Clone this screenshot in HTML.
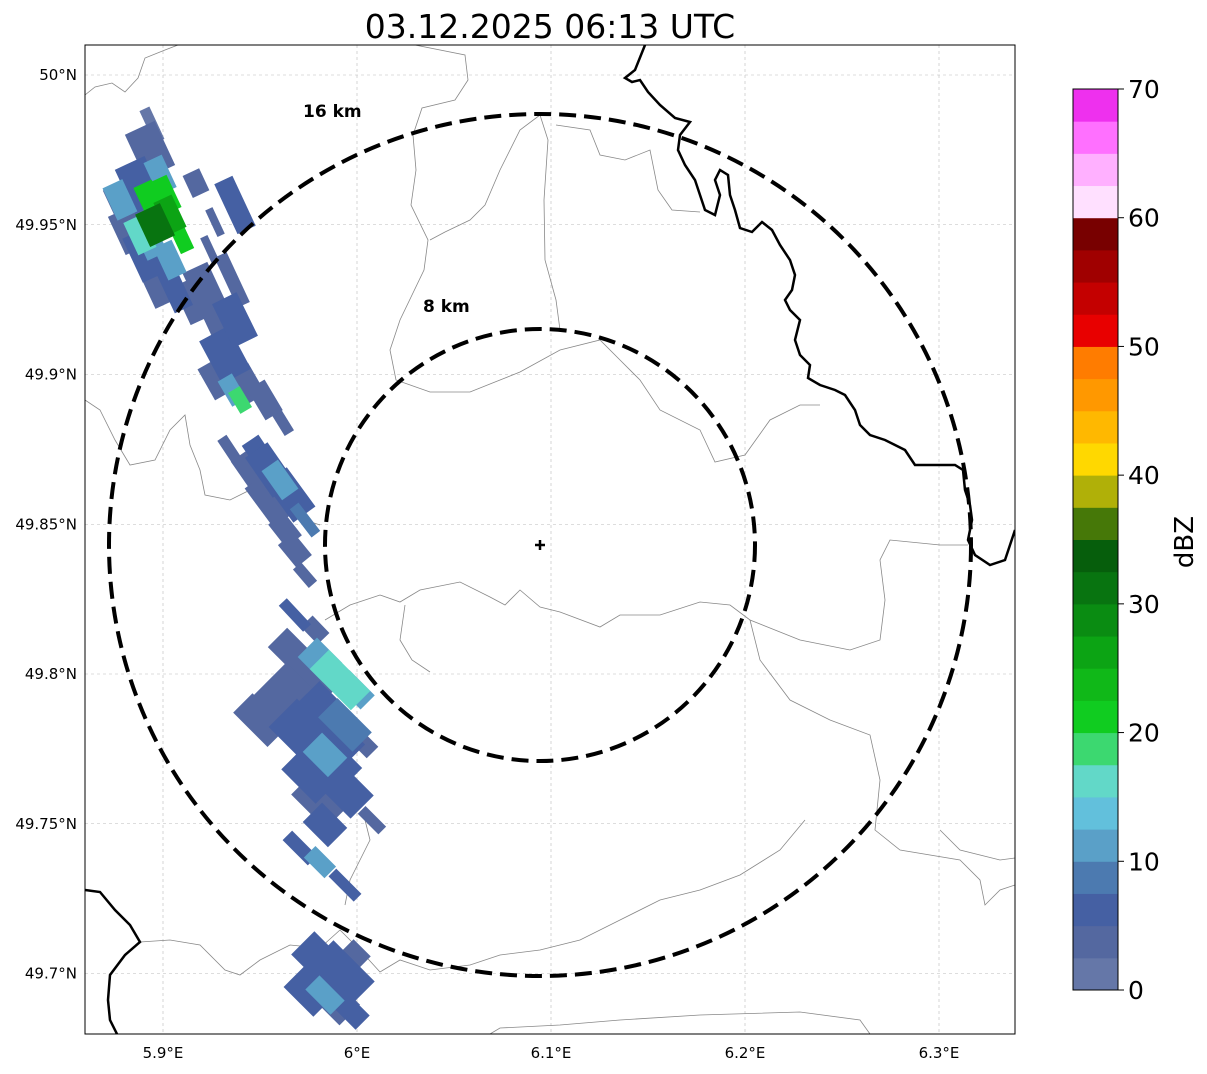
<!DOCTYPE html>
<html><head><meta charset="utf-8"><style>
body{margin:0;background:#fff;width:1207px;height:1069px;overflow:hidden;font-family:"Liberation Sans",sans-serif}
svg text{font-family:"DejaVu Sans","Liberation Sans",sans-serif}
</style></head><body>
<svg id="chart" width="1207" height="1069" viewBox="0 0 1207 1069" xmlns="http://www.w3.org/2000/svg">
<text x="550" y="38" font-size="33" text-anchor="middle">03.12.2025 06:13 UTC</text>
<defs><clipPath id="pc"><rect x="85" y="45" width="930" height="989"/></clipPath></defs>
<g id="grid"></g>
<g clip-path="url(#pc)">
<g fill="none" stroke="#888" stroke-width="0.8">
<path d="M85,95 L95,87 L112,83 L125,92 L138,78 L145,58 L165,50 L178,45"/>
<path d="M415,45 L465,55 L468,80 L455,100 L422,108 L413,135 L416,170 L411,205 L428,240 L424,270 L400,320 L390,350 L396,380 L430,392 L470,392 L520,372 L560,350 L600,340 L620,360 L640,380 L660,410 L700,430 L715,462 L745,455 L770,420 L800,405 L820,405"/>
<path d="M540,115 L548,140 L544,200 L545,260 L556,300 L560,330"/>
<path d="M540,115 L520,130 L500,170 L485,205 L470,220 L445,232 L430,240"/>
<path d="M556,125 L590,130 L600,155 L625,160 L650,150 L658,190 L672,210 L700,212"/>
<path d="M85,400 L100,410 L115,440 L130,465 L155,460 L170,430 L185,415 L190,445 L200,470 L205,495 L230,500 L250,490 L270,505 L290,515 L320,525"/>
<path d="M325,620 L350,605 L380,595 L400,602 L420,590 L460,582 L490,597 L505,605 L520,590 L540,607 L560,612 L600,627 L620,615 L660,615 L700,602 L730,605 L750,620 L800,640 L850,650 L880,640 L885,600 L880,560 L890,540 L940,545 L968,545"/>
<path d="M405,605 L400,640 L412,660 L430,672"/>
<path d="M750,620 L760,660 L790,700 L830,720 L870,735 L880,780 L875,830 L900,850 L960,860 L980,880 L985,905 L1000,890 L1015,885"/>
<path d="M805,820 L780,850 L740,875 L700,890 L660,900 L620,920 L580,940 L540,950 L500,955 L470,965 L430,970 L400,960 L380,972 L360,950 L340,930 L320,948 L290,945 L260,960 L240,975 L225,970 L200,945 L170,940 L140,942"/>
<path d="M345,905 L350,880 L360,860 L370,840 L365,820"/>
<path d="M490,1034 L500,1028 L560,1025 L620,1020 L700,1015 L800,1012 L860,1020 L870,1034"/>
<path d="M940,830 L960,850 L1000,860 L1015,858"/>
</g>
<g fill="none" stroke="#000" stroke-width="2.5">
<path d="M645,45 L635,70 L625,78 L632,82 L640,80 L648,92 L660,105 L675,118 L690,122 L680,135 L678,150 L685,165 L695,180 L700,195 L705,210 L715,215 L720,195 L715,180 L720,170 L728,175 L730,195 L735,210 L740,228 L752,232 L762,222 L772,230 L780,245 L790,260 L795,275 L792,290 L785,300 L790,310 L800,320 L795,340 L800,355 L810,365 L808,378 L820,385 L835,390 L845,395 L855,410 L860,425 L870,435 L885,440 L895,445 L905,450 L915,465 L935,465 L955,465 L963,470 L965,490 L970,505 L972,520 L968,540 L975,555 L990,565 L1005,560 L1010,545 L1015,530"/>
<path d="M85,890 L100,892 L115,910 L130,925 L140,942 L125,955 L110,975 L108,1000 L110,1020 L117,1034"/>
</g>
<g id="echoes"></g>
</g>
<rect x="85" y="45" width="930" height="989" fill="none" stroke="#000" stroke-width="1"/>
<g fill="none" stroke="#000" stroke-width="4" stroke-dasharray="17,8">
<ellipse cx="540" cy="545" rx="215" ry="216"/>
<ellipse cx="540" cy="545" rx="431" ry="431"/>
</g>
<text x="303" y="117" font-size="17" font-weight="bold">16 km</text>
<text x="423" y="312" font-size="17" font-weight="bold">8 km</text>
<path d="M535,545 H545 M540,540 V550" stroke="#000" stroke-width="2.5"/>
<g id="axes" font-size="15"></g>
<g id="cbar"></g>
<text x="1193" y="542" font-size="26" text-anchor="middle" transform="rotate(-90 1193 542)">dBZ</text>
</svg>
<script>
const lonTicks=[5.9,6.0,6.1,6.2,6.3];
const lonLabels=["5.9°E","6°E","6.1°E","6.2°E","6.3°E"];
const latTicks=[50,49.95,49.9,49.85,49.8,49.75,49.7];
const latLabels=["50°N","49.95°N","49.9°N","49.85°N","49.8°N","49.75°N","49.7°N"];
const cbColors=["#6577a8","#5468a0","#4560a3","#4c7ab0","#5aa0c8","#62c0dc","#62d8c8","#3cd870","#10cc20","#10b818","#0ca414","#0a8c12","#087410","#065e0c","#467808","#b0b008","#ffd800","#ffb800","#ff9800","#ff7c00","#e80000","#c40000","#a00000","#780000","#ffe0ff","#ffb0ff","#ff70ff","#ee30ee"];
const cbTicks=[0,10,20,30,40,50,60,70];
// echo cells
const cellLon=[5.8933,5.8830,5.8778,5.9165,5.9448,5.9655,5.9758,5.9835,5.9912,5.9758,5.9886,
5.8943,5.8933,5.8881,5.8985,5.8830,5.8933,5.9010,5.8959,5.9036,5.8881,5.9088,5.8907,5.9036,5.8985,5.9062,5.9170,5.9371,5.9268,5.9242,5.9356,5.9242,5.9371,5.9320,5.9423,5.9268,5.9356,5.9397,5.9526,5.9603,5.9345,5.9500,5.9552,5.9603,5.9655,5.9552,5.9732,5.9629,5.9680,5.9732,
5.9680,5.9784,5.9655,5.9809,5.9912,5.9758,5.9990,5.9655,5.9835,5.9938,6.0015,5.9500,5.9706,5.9835,5.9912,5.9758,5.9938,5.9809,5.9835,6.0077,5.9706,5.9809,5.9938,5.9809,5.9912,5.9990,5.9835,5.9964];
const cellLat=[49.9449,49.9483,49.9583,49.9249,49.8681,49.7913,49.7846,49.7763,49.7780,49.6944,49.6911,
49.9833,49.9750,49.9633,49.9666,49.9549,49.9583,49.9599,49.9499,49.9533,49.9466,49.9466,49.9399,49.9382,49.9316,49.9282,49.9639,49.9566,49.9509,49.9416,49.9316,49.9249,49.9182,49.9065,49.8965,49.8982,49.8948,49.8915,49.8915,49.8855,49.8748,49.8731,49.8681,49.8648,49.8598,49.8581,49.8514,49.8481,49.8414,49.8330,
49.8197,49.8147,49.8080,49.8047,49.7980,49.7980,49.7947,49.7913,49.7880,49.7830,49.7780,49.7846,49.7813,49.7730,49.7696,49.7663,49.7613,49.7579,49.7496,49.7512,49.7419,49.7372,49.7295,49.7045,49.6995,49.7062,49.6928,49.6878];
const cellDbz=[10,4,10,4,4,4,5,5,6,5,4,
2,3,7,12,4,20,22,30,27,15,20,5,12,3,5,3,5,3,3,3,4,6,5,4,3,12,18,4,3,4,6,6,10,5,4,8,4,3,4,
5,3,4,10,15,3,12,4,6,8,3,3,6,10,6,5,5,4,5,3,5,12,6,5,6,3,12,6];
const cellLenKm=[1.1,1.3,1.1,1.3,1.1,1.5,1.3,1.3,1.3,1.3,1.3,
1.1,1.5,1.5,1.1,1.8,1.1,1.1,1.1,1.1,1.1,1.1,1.5,1.1,1.5,1.3,0.75,1.7,0.9,0.9,1.7,2.2,1.5,1.5,1.1,1.1,0.9,0.75,1.1,1.1,0.9,1.1,1.5,1.1,1.5,1.5,1.1,0.9,0.9,0.75,
1.1,0.75,1.1,1.1,1.8,1.5,1.1,1.8,1.5,1.5,1.1,1.5,1.5,1.1,1.1,1.5,1.5,1.5,1.1,0.9,1.1,0.9,1.1,1.5,1.8,0.75,1.1,1.1];
const cellWidKm=[0.6,0.8,0.6,0.8,0.6,1.0,0.9,0.9,0.8,0.9,0.8,
0.3,0.9,0.9,0.55,0.9,0.55,0.55,0.75,0.55,0.55,0.4,0.75,0.55,0.9,0.55,0.5,0.55,0.22,0.22,0.37,0.75,0.75,0.9,0.75,0.55,0.45,0.37,0.55,0.3,0.3,0.55,0.75,0.55,0.75,0.75,0.3,0.55,0.55,0.3,
0.3,0.45,0.75,0.75,0.75,0.75,0.55,1.3,0.9,0.75,0.45,0.75,1.1,0.75,0.75,0.9,0.9,0.9,0.75,0.3,0.37,0.45,0.3,0.9,1.1,0.55,0.55,0.55];
const NS="http://www.w3.org/2000/svg";
const X0=85,X1=1015,Y0=45,Y1=1034;
function xs(lon){return 163+(lon-5.9)*1940;}
function ys(lat){return 75+(50-lat)*2995;}
function cbY(v){return 990-v*(901/70);}
function colorFor(d){return cbColors[Math.max(0,Math.min(27,Math.floor(d/2.5)))];}
function mk(t,a,p){const e=document.createElementNS(NS,t);for(const k in a)e.setAttribute(k,a[k]);(p||document.getElementById('chart')).appendChild(e);return e;}
const grid=document.getElementById('grid'),axes=document.getElementById('axes');
lonTicks.forEach((v,i)=>{const x=xs(v);
 const l=mk('line',{x1:x,x2:x,y1:Y0,y2:Y1,stroke:'#bbb','stroke-width':0.6,'stroke-dasharray':'3,3'},grid);
 
 
 const t=mk('text',{x:x,y:1058,'text-anchor':'middle','font-size':15},axes);t.textContent=lonLabels[i];
 
 });
latTicks.forEach((v,i)=>{const y=ys(v);
 const l=mk('line',{x1:X0,x2:X1,y1:y,y2:y,stroke:'#bbb','stroke-width':0.6,'stroke-dasharray':'3,3'},grid);
 
 
 const t=mk('text',{x:77,y:y+5,'text-anchor':'end','font-size':15},axes);t.textContent=latLabels[i];
 
 });
const eg=document.getElementById('echoes');
const order=cellDbz.map((d,i)=>i).sort((a,b)=>cellDbz[a]-cellDbz[b]);
order.forEach(i=>{
 const x=xs(cellLon[i]),y=ys(cellLat[i]);
 const L=cellLenKm[i]*27*1.2,W=cellWidKm[i]*27*1.35;
 const ang=Math.max(45,Math.min(65,65-(y-300)*20/350));
 const r=mk('rect',{x:x-W/2,y:y-L/2,width:W,height:L,fill:colorFor(cellDbz[i]),transform:`rotate(${-(90-ang)} ${x} ${y})`},eg);
 
 
});
const cb=document.getElementById('cbar');
cbColors.forEach((c,i)=>{const y1=cbY((i+1)*2.5),y0=cbY(i*2.5);
 const r=mk('rect',{x:1073,y:y1,width:45,height:y0-y1+0.5,fill:c},cb);
 
 });
const fr=mk('rect',{x:1073,y:cbY(70),width:45,height:cbY(0)-cbY(70),fill:'none',stroke:'#000','stroke-width':1},cb);


cbTicks.forEach(v=>{const y=cbY(v);
 mk('line',{x1:1118,x2:1124,y1:y,y2:y,stroke:'#000'},cb);
 const t=mk('text',{x:1128,y:y+9,'font-size':25},cb);t.textContent=v;
 
 });
</script>
</body></html>
